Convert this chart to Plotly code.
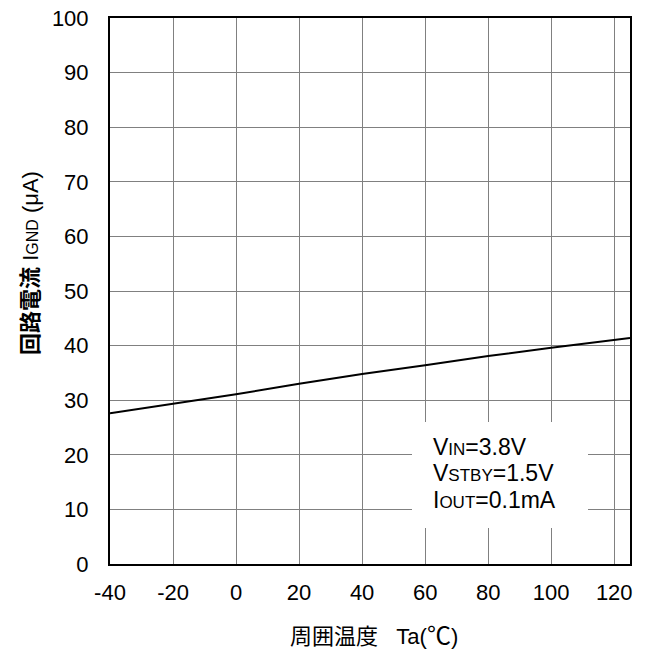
import plotly.graph_objects as go

temps = [-40, -20, 0, 20, 40, 60, 80, 100, 125]
ignd = [27.6, 29.3, 31.1, 33.0, 34.8, 36.4, 38.1, 39.6, 41.4]

x_ticks = [-40, -20, 0, 20, 40, 60, 80, 100, 120]
x_tick_labels = ["-40", "-20", "0", "20", "40", "60", "80", "100", "120"]
y_ticks = [0, 10, 20, 30, 40, 50, 60, 70, 80, 90, 100]
y_tick_labels = ["0", "10", "20", "30", "40", "50", "60", "70", "80", "90", "100"]

FONT = "Liberation Sans, Arial, Noto Sans CJK JP, sans-serif"

# page body has an 8px margin: compensate so the plot lands where the reference has it
OFF = 8
fig = go.Figure()
fig.add_trace(go.Scatter(x=temps, y=ignd, mode="lines",
                         line=dict(color="black", width=2), showlegend=False,
                         hoverinfo="skip"))

fig.update_layout(
    width=649 - OFF, height=652 - OFF,
    margin=dict(l=110 - OFF, r=19, t=18 - OFF, b=88, autoexpand=False),
    paper_bgcolor="white", plot_bgcolor="white",
    font=dict(family=FONT, size=22, color="black"),
)
fig.update_xaxes(range=[-40, 125], tickvals=x_ticks, ticktext=x_tick_labels,
                 showgrid=True, gridcolor="#808080", gridwidth=1, showline=True,
                 linecolor="black", linewidth=2, mirror=True, ticks="",
                 zeroline=False, ticklabelstandoff=8, ticklabeloverflow="allow",
                 automargin=False, tickfont=dict(size=22))
fig.update_yaxes(range=[0, 100], tickvals=y_ticks, ticktext=y_tick_labels,
                 showgrid=True, gridcolor="#808080", gridwidth=1, showline=True,
                 linecolor="black", linewidth=2, mirror=True, ticks="",
                 zeroline=False, ticklabelstandoff=15, ticklabeloverflow="allow",
                 automargin=False, tickfont=dict(size=22))

# white box behind condition text
fig.add_shape(type="rect", xref="paper", yref="paper",
              x0=(412 - 110) / 520, x1=(588 - 110) / 520,
              y0=(564 - 528) / 546, y1=(564 - 422) / 546,
              fillcolor="white", line=dict(width=0), layer="above")

cond_lines = [
    "V<span style='font-size:17px'>IN</span>=3.8V",
    "V<span style='font-size:17px'>STBY</span>=1.5V",
    "I<span style='font-size:17px'>OUT</span>=0.1mA",
]
cond_y = [447, 473, 500]
for txt, yp in zip(cond_lines, cond_y):
    fig.add_annotation(text=txt, xref="paper", yref="paper",
                       x=(431 - 110) / 520, y=(564 - yp) / 546,
                       xanchor="left", yanchor="middle", showarrow=False,
                       font=dict(size=23, family=FONT))

# axis titles
fig.add_annotation(text="<b>回路電流</b> I<span style='font-size:16px'>GND</span> (μA)",
                   xref="paper", yref="paper",
                   x=(31 - 110) / 520, y=(564 - 263) / 546,
                   textangle=-90, xanchor="center", yanchor="middle",
                   showarrow=False, font=dict(size=22, family=FONT))
fig.add_annotation(text="周囲温度   Ta(<span style='font-size:24px'>℃</span>)",
                   xref="paper", yref="paper",
                   x=(374 - 110) / 520, y=(564 - 635) / 546,
                   xanchor="center", yanchor="middle",
                   showarrow=False, font=dict(size=22, family=FONT))

fig.write_html("out.html")
